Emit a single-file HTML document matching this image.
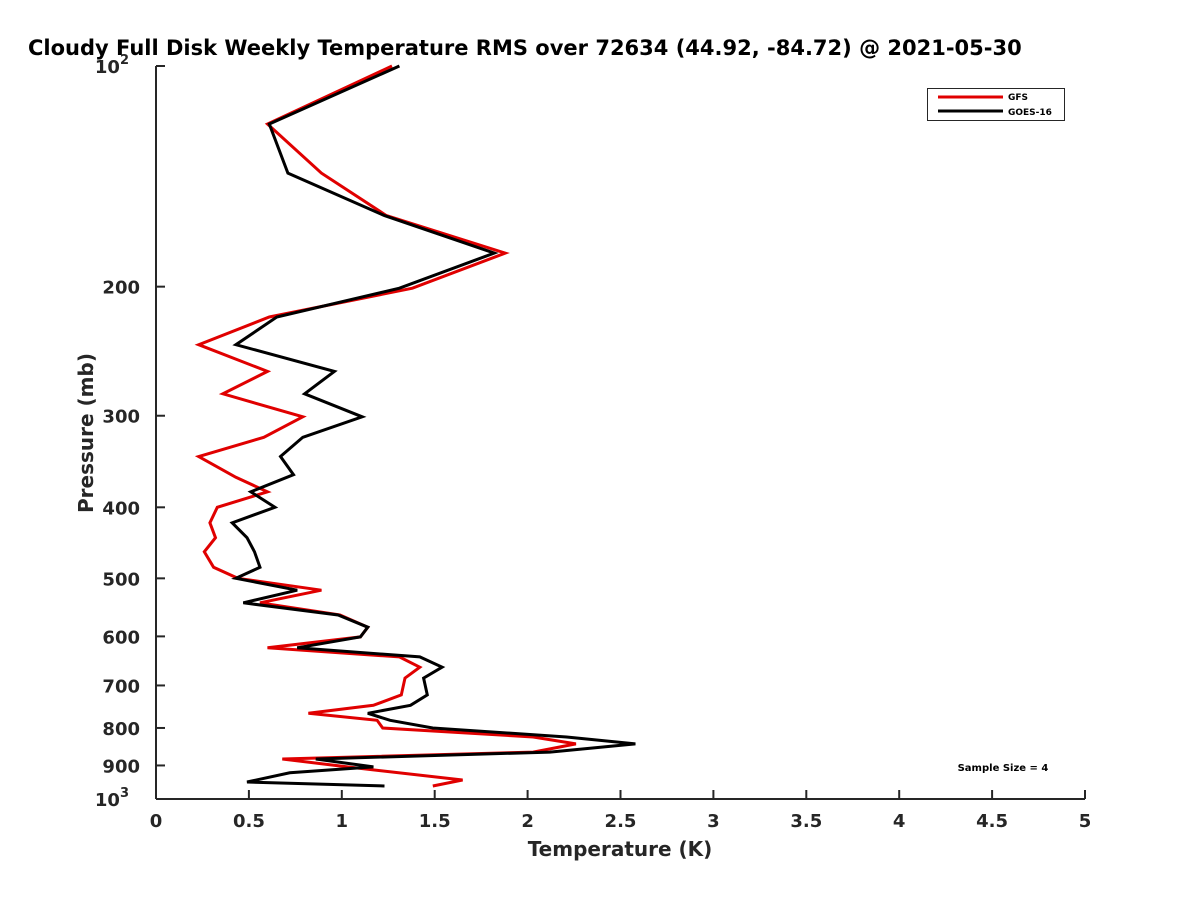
<!DOCTYPE html>
<html><head><meta charset="utf-8"><style>
html,body{margin:0;padding:0;background:#fff;}
svg{display:block;font-family:"DejaVu Sans","Liberation Sans",sans-serif;}
</style></head><body>
<svg id="chart" width="1200" height="900" viewBox="0 0 1200 900" xmlns="http://www.w3.org/2000/svg">
<rect width="1200" height="900" fill="#fff"/>
<text x="28" y="55" font-size="21" font-weight="bold" fill="#000">Cloudy Full Disk Weekly Temperature RMS over 72634 (44.92, -84.72) @ 2021-05-30</text>
<g id="axes"></g>
<g id="series"></g>
<text x="620" y="856" font-size="20" font-weight="bold" fill="#262626" text-anchor="middle">Temperature (K)</text>
<text transform="translate(93,433) rotate(-90)" font-size="20" font-weight="bold" fill="#262626" text-anchor="middle">Pressure (mb)</text>
<g>
<rect x="927.5" y="88.5" width="137" height="32" fill="#fff" stroke="#262626" stroke-width="1"/>
<line x1="938" y1="97" x2="1003" y2="97" stroke="#e00000" stroke-width="3"/>
<text x="1008" y="100" font-size="9" font-weight="bold">GFS</text>
<line x1="938" y1="111" x2="1003" y2="111" stroke="#000" stroke-width="3"/>
<text x="1008" y="115" font-size="9" font-weight="bold">GOES-16</text>
</g>
<text x="1003" y="771" font-size="10" font-weight="bold" text-anchor="middle">Sample Size = 4</text>
</svg>
<script>
const xTicks = [0, 0.5, 1, 1.5, 2, 2.5, 3, 3.5, 4, 4.5, 5];
const xTickLabels = ["0","0.5","1","1.5","2","2.5","3","3.5","4","4.5","5"];
const yTicks = [100, 200, 300, 400, 500, 600, 700, 800, 900, 1000];
const yTickLabels = ["10^2","200","300","400","500","600","700","800","900","10^3"];
const gfsPressure = [100,120,140,160,180,201,220,240,261,280,301,321,341,364,381,400,420,440,460,483,500,519,540,561,583,601,622,640,661,684,721,745,764,781,800,823,841,863,882,904,942,960];
const gfsTemp = [1.27,0.60,0.89,1.24,1.88,1.38,0.61,0.23,0.60,0.36,0.79,0.58,0.23,0.43,0.60,0.33,0.29,0.32,0.26,0.31,0.44,0.89,0.56,0.99,1.14,1.10,0.60,1.31,1.42,1.34,1.32,1.17,0.82,1.19,1.22,2.03,2.26,2.03,0.68,1.03,1.65,1.49];
const goesPressure = [100,120,140,160,180,201,220,240,261,280,301,321,341,361,381,400,420,440,460,483,500,519,540,561,583,601,622,640,661,684,721,745,764,781,800,823,841,863,882,904,921,948,960];
const goesTemp = [1.31,0.61,0.71,1.23,1.82,1.31,0.65,0.43,0.96,0.80,1.11,0.79,0.67,0.74,0.51,0.64,0.41,0.49,0.53,0.56,0.43,0.76,0.47,0.98,1.14,1.10,0.76,1.42,1.54,1.44,1.46,1.37,1.14,1.26,1.49,2.21,2.58,2.12,0.86,1.17,0.72,0.49,1.23];

const NS = "http://www.w3.org/2000/svg";
const X0 = 156, X1 = 1085, Y0 = 66, Y1 = 799;
const xScale = v => X0 + (v / 5) * (X1 - X0);
const yScale = p => Y0 + (Math.log10(p) - 2) * (Y1 - Y0);
const axes = document.getElementById("axes");
const series = document.getElementById("series");
function mk(tag, attrs, parent) {
  const el = document.createElementNS(NS, tag);
  for (const k in attrs) el.setAttribute(k, attrs[k]);
  parent.appendChild(el);
  return el;
}
const yAxis = mk("line", {x1: X0, y1: Y0, x2: X0, y2: Y1, stroke: "#262626", "stroke-width": 2}, axes);


const xAxis = mk("line", {x1: X0, y1: Y1, x2: X1, y2: Y1, stroke: "#262626", "stroke-width": 2}, axes);


xTicks.forEach((v, i) => {
  const x = xScale(v);
  const t = mk("line", {x1: x, y1: Y1, x2: x, y2: Y1 - 9, stroke: "#262626", "stroke-width": 2}, axes);
  
  
  const lab = mk("text", {x: x, y: Y1 + 28, "font-size": 18, "font-weight": "bold", fill: "#262626", "text-anchor": "middle"}, axes);
  
  
  lab.textContent = xTickLabels[i];
});
yTicks.forEach((p, i) => {
  const y = yScale(p);
  const t = mk("line", {x1: X0, y1: y, x2: X0 + 9, y2: y, stroke: "#262626", "stroke-width": 2}, axes);
  
  
  const lab = mk("text", {x: 140, y: y + 7, "font-size": 18, "font-weight": "bold", fill: "#262626", "text-anchor": "end"}, axes);
  
  
  const parts = yTickLabels[i].split("^");
  if (parts.length === 2) {
    lab.setAttribute("x", 129);
    lab.textContent = parts[0];
    const sup = mk("tspan", {dy: -9, "font-size": 13}, lab);
    sup.textContent = parts[1];
  } else {
    lab.textContent = parts[0];
  }
});
function drawLine(ps, ts, color, name) {
  const d = ps.map((p, i) => (i ? "L" : "M") + xScale(ts[i]).toFixed(1) + "," + yScale(p).toFixed(1)).join(" ");
  const path = mk("path", {d: d, fill: "none", stroke: color, "stroke-width": 3, "stroke-linejoin": "miter"}, series);
  
  
}
drawLine(gfsPressure, gfsTemp, "#e00000", "gfs-line");
drawLine(goesPressure, goesTemp, "#000000", "goes16-line");
</script>
</body></html>
